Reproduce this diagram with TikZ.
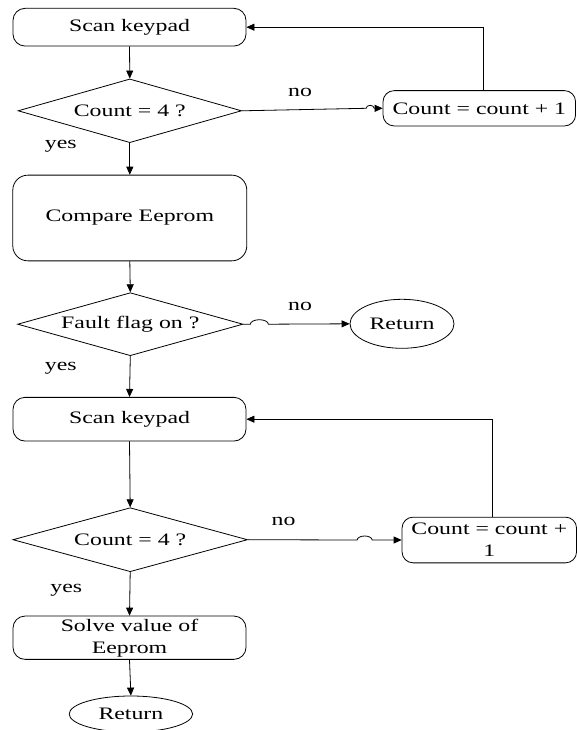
\documentclass[tikz,border=0pt]{standalone}
\usepackage{fontspec}
\setmainfont{Liberation Serif}[FakeStretch=1.36]
\usetikzlibrary{arrows.meta,shapes.geometric,calc}

\tikzset{
  base/.style={draw=black, line width=0.8pt, inner sep=0pt, align=center,
               font=\fontsize{17.5}{22}\selectfont},
  procbox/.style={base, rectangle, rounded corners=12pt},
  decision/.style={base, diamond, aspect=3.5},
  terminal/.style={base, ellipse},
  lbl/.style={inner sep=0pt, font=\fontsize{17.5}{22}\selectfont},
  flow/.style={line width=0.8pt, -{Triangle[length=8pt,width=7pt]}},
}

\begin{document}
\begin{tikzpicture}[x=1pt, y=-1pt]
\useasboundingbox (0,0) rectangle (577,730);

% first keypad scan and digit count
\node[procbox, minimum width=233pt, minimum height=37.7pt] (s1) at (129.5,27.2) {Scan keypad};
\node[decision, minimum width=223.5pt, minimum height=63.7pt] (d1) at (129.8,110.8) {Count = 4 ?};
\node[procbox, rounded corners=11pt, minimum width=192.5pt, minimum height=35.3pt] (c1) at (479.3,108.3) {Count = count + 1};

% check the stored code
\node[procbox, rounded corners=15pt, minimum width=234pt, minimum height=85.7pt] (cmp) at (129.8,218) {Compare Eeprom};
\node[decision, minimum width=225.3pt, minimum height=63pt] (d2) at (130.3,324.2) {Fault flag on ?};
\node[terminal, minimum width=104pt, minimum height=49pt] (r1) at (402,323.8) {Return};

% second keypad scan
\node[procbox, minimum width=233pt, minimum height=43.7pt] (s2) at (129.5,419.2) {Scan keypad};
\node[decision, minimum width=234.6pt, minimum height=64pt] (d3) at (130.2,539.7) {Count = 4 ?};
\node[procbox, rounded corners=11pt, minimum width=174.5pt, minimum height=45.7pt] (c2) at (489.3,540) {Count = count +\\1};

% store result and leave
\node[procbox, minimum width=233pt, minimum height=43.3pt] (sv) at (129.5,637.7) {Solve value of\\Eeprom};
\node[terminal, minimum width=123.4pt, minimum height=36pt] (r2) at (130.9,714) {Return};

% branch labels
\node[lbl] (no1) at (300,92.7) {no};
\node[lbl] (yes1) at (60.8,146.7) {yes};
\node[lbl] (no2) at (300,306.7) {no};
\node[lbl] (yes2) at (60.8,368.3) {yes};
\node[lbl] (no3) at (283.6,521) {no};
\node[lbl] (yes3) at (66.3,590.7) {yes};

% main flow
\draw[flow] (s1.south) -- (d1.north);
\draw[flow] (d1.south) -- (cmp.north);
\draw[flow] (cmp.south) -- (d2.north);
\draw[flow] (d2.south) -- (s2.north);
\draw[flow] (s2.south) -- (d3.north);
\draw[flow] (d3.south) -- (sv.north);
\draw[flow] (sv.south) -- (r2.north);

% "no" branches with line hops
\draw[flow] (d1.east) -- ($(c1.west)+(-16.5,0)$)
  arc[start angle=180, end angle=0, x radius=4pt, y radius=3pt] -- (c1.west);
\draw[flow] (d2.east) -- ++(7,0)
  arc[start angle=180, end angle=0, x radius=9pt, y radius=4.5pt] -- (r1.west);
\draw[flow] (d3.east) -- ($(c2.west)+(-44.5,0)$)
  arc[start angle=180, end angle=0, x radius=7.5pt, y radius=4pt] -- (c2.west);

% loops back to the keypad scans
\draw[flow] ($(c1.north)+(4.3,0)$) |- (s1.east);
\draw[flow] ($(c2.north)+(3.2,0)$) |- (s2.east);
\end{tikzpicture}
\end{document}
